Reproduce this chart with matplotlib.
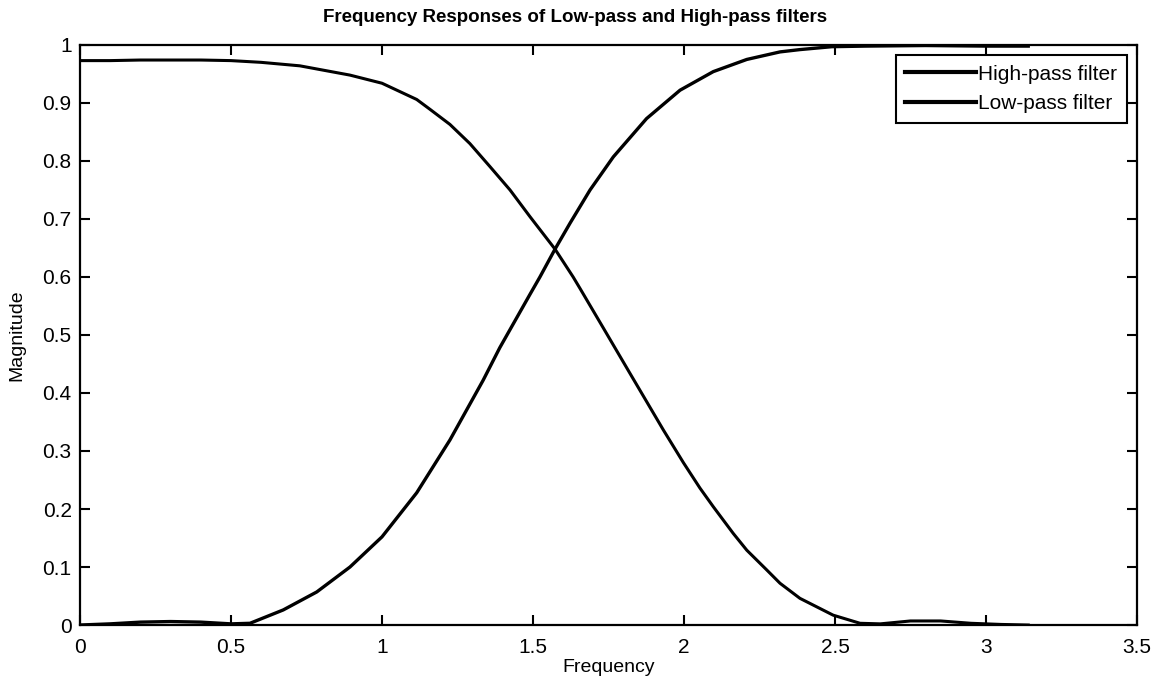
import matplotlib
matplotlib.use('Agg')
from matplotlib import pyplot as plt

plt.rcParams['font.family'] = ['Liberation Sans', 'DejaVu Sans']

# values
freq_hp = [0.0, 0.1, 0.2, 0.3, 0.4, 0.5, 0.563, 0.673, 0.784, 0.894, 1.0, 1.115, 1.225,
           1.335, 1.39, 1.49, 1.523, 1.573, 1.623, 1.689, 1.766, 1.876, 1.987, 2.097,
           2.208, 2.318, 2.384, 2.49, 2.6, 2.8, 3.0, 3.14]
mag_hp = [0.0, 0.002, 0.005, 0.006, 0.005, 0.002, 0.003, 0.026, 0.057, 0.1, 0.152, 0.228,
          0.319, 0.422, 0.478, 0.570, 0.600, 0.648, 0.693, 0.750, 0.807, 0.873, 0.922,
          0.954, 0.975, 0.988, 0.992, 0.997, 0.998, 0.999, 0.998, 0.998]

freq_lp = [0.0, 0.1, 0.2, 0.3, 0.4, 0.5, 0.6, 0.728, 0.894, 1.0, 1.115, 1.159, 1.225,
           1.291, 1.358, 1.424, 1.49, 1.573, 1.633, 1.656, 1.733, 1.821, 1.932, 1.998,
           2.053, 2.097, 2.163, 2.208, 2.274, 2.318, 2.384, 2.494, 2.583, 2.65, 2.75,
           2.85, 2.95, 3.05, 3.14]
mag_lp = [0.973, 0.973, 0.974, 0.974, 0.974, 0.973, 0.970, 0.964, 0.948, 0.934, 0.906,
          0.889, 0.863, 0.830, 0.790, 0.750, 0.704, 0.648, 0.600, 0.580, 0.512, 0.434,
          0.336, 0.280, 0.236, 0.204, 0.158, 0.129, 0.095, 0.072, 0.046, 0.017, 0.003,
          0.002, 0.007, 0.007, 0.003, 0.001, 0.0]

xticks = [0, 0.5, 1, 1.5, 2, 2.5, 3, 3.5]
xtick_labels = ['0', '0.5', '1', '1.5', '2', '2.5', '3', '3.5']
yticks = [0, 0.1, 0.2, 0.3, 0.4, 0.5, 0.6, 0.7, 0.8, 0.9, 1]
ytick_labels = ['0', '0.1', '0.2', '0.3', '0.4', '0.5', '0.6', '0.7', '0.8', '0.9', '1']

fig = plt.figure(figsize=(11.51, 6.81), dpi=100)
ax = fig.add_axes([0.0695, 0.0822, 0.9183, 0.8518])

ax.plot(freq_hp, mag_hp, color='black', linewidth=2.4, label='High-pass filter')
ax.plot(freq_lp, mag_lp, color='black', linewidth=2.2, label='Low-pass filter')

ax.set_xlim(0, 3.5)
ax.set_ylim(0, 1)
ax.set_xticks(xticks)
ax.set_xticklabels(xtick_labels)
ax.set_yticks(yticks)
ax.set_yticklabels(ytick_labels)
ax.tick_params(direction='in', length=7, width=1.5, top=True, right=True, labelsize=15)
ax.tick_params(axis='x', pad=9)
ax.tick_params(axis='y', pad=6)
for s in ax.spines.values():
    s.set_linewidth(1.6)

ax.set_xlabel('Frequency', fontsize=14, labelpad=2)
ax.set_ylabel('Magnitude', fontsize=14, labelpad=12)
# title is centred on the figure, not on the axes
fig.text(0.5, 0.974, 'Frequency Responses of Low-pass and High-pass filters', fontsize=13.5,
         fontweight='bold', ha='center', va='center')

leg = ax.legend(loc='upper right', fontsize=15, handlelength=3.4, handletextpad=0.1,
                fancybox=False, framealpha=1, edgecolor='black', borderaxespad=0.5,
                labelspacing=0.5, borderpad=0.45)
leg.get_frame().set_linewidth(1.5)
for line in leg.get_lines():
    line.set_linewidth(3)

fig.savefig('out.png', dpi=100)
